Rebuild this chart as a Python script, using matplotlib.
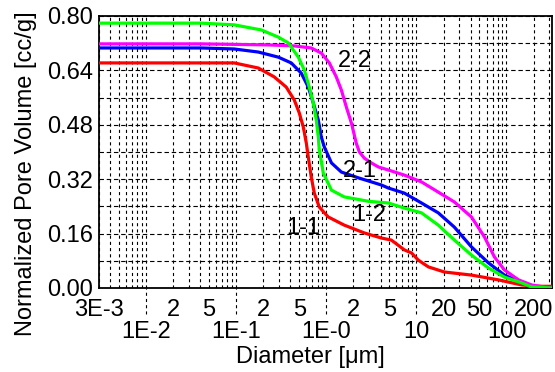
import numpy as np
import matplotlib
matplotlib.use('Agg')
import matplotlib.pyplot as plt
from matplotlib.ticker import FixedLocator

plt.rcParams['font.family'] = ['Liberation Sans', 'DejaVu Sans']

# Sample 1-1 (red)
d_11 = [3e-3, 0.041, 0.095, 0.176, 0.264, 0.359, 0.441, 0.501, 0.555, 0.6, 0.631, 0.681, 0.736,
        0.836, 1.05, 1.58, 2.64, 4.08, 5.27, 7.36, 8.83, 10.5, 13.6, 20.5, 40.8, 81, 147, 226, 320]
v_11 = [0.662, 0.662, 0.662, 0.647, 0.621, 0.591, 0.553, 0.515, 0.474, 0.426, 0.385, 0.326, 0.279,
        0.238, 0.209, 0.185, 0.162, 0.147, 0.141, 0.112, 0.103, 0.082, 0.062, 0.047, 0.038, 0.024, 0.009, 0.005, 0.005]
# Sample 1-2 (green)
d_12 = [3e-3, 0.041, 0.095, 0.19, 0.293, 0.378, 0.489, 0.57, 0.647, 0.717, 0.774, 0.815, 0.836, 0.926,
        1.14, 1.58, 2.93, 4.89, 7.36, 11.4, 17.5, 26.4, 40.8, 63, 95, 147, 190, 320]
v_12 = [0.779, 0.779, 0.774, 0.759, 0.738, 0.721, 0.679, 0.641, 0.591, 0.544, 0.494, 0.444, 0.406, 0.338,
        0.288, 0.268, 0.255, 0.250, 0.235, 0.221, 0.185, 0.141, 0.097, 0.059, 0.032, 0.015, 0.003, 0.0]
# Sample 2-1 (blue)
d_21 = [3e-3, 0.041, 0.095, 0.176, 0.293, 0.408, 0.527, 0.631, 0.717, 0.815, 0.88, 0.95, 1.14, 1.47,
        2.27, 4.08, 4.89, 7.36, 11.4, 17.5, 26.4, 40.8, 63, 95, 147, 204, 320]
v_21 = [0.706, 0.706, 0.703, 0.694, 0.679, 0.662, 0.632, 0.591, 0.544, 0.494, 0.444, 0.415, 0.368, 0.341,
        0.324, 0.303, 0.294, 0.279, 0.250, 0.221, 0.179, 0.121, 0.074, 0.038, 0.015, 0.003, 0.0]
# Sample 2-2 (magenta)
d_22 = [3e-3, 0.041, 0.227, 0.441, 0.681, 0.88, 1.08, 1.29, 1.47, 1.67, 1.9, 2.15, 2.33, 2.64, 3.16,
        3.78, 4.89, 7.36, 11.4, 17.5, 26.4, 40.8, 57, 73.6, 95, 136, 190, 264, 320]
v_22 = [0.718, 0.718, 0.715, 0.712, 0.706, 0.691, 0.662, 0.621, 0.582, 0.532, 0.485, 0.426, 0.400, 0.382, 0.368,
        0.356, 0.347, 0.332, 0.312, 0.282, 0.253, 0.209, 0.150, 0.091, 0.053, 0.024, 0.009, 0.003, 0.0]

# curve labels: text, diameter, volume
curve_labels = [('2-2', 2.1, 0.668), ('2-1', 2.33, 0.344), ('1-2', 3.0, 0.215), ('1-1', 0.555, 0.176)]

y_ticks = [0.00, 0.16, 0.32, 0.48, 0.64, 0.80]
major_x = [1e-2, 1e-1, 1e0, 1e1, 1e2]
major_labels = ['1E-2', '1E-1', '1E-0', '10', '100']
minor_labelled = {3e-3: '3E-3', 2e-2: '2', 5e-2: '5', 2e-1: '2', 5e-1: '5', 2: '2', 5: '5',
                  20: '20', 50: '50', 200: '200'}

fig = plt.figure(figsize=(5.55, 3.72), dpi=100)
ax = fig.add_axes([99/555, 84/372, 453/555, 272/372])

ax.plot(d_11, v_11, color='#ff0000', lw=2.3, zorder=3)
ax.plot(d_21, v_21, color='#0000ff', lw=2.3, zorder=3)
ax.plot(d_22, v_22, color='#ff00ff', lw=2.3, zorder=3)
ax.plot(d_12, v_12, color='#00ff00', lw=2.3, zorder=3)

for txt, xd, yv in curve_labels:
    ax.text(xd, yv, txt, fontsize=17, ha='center', va='center', color='black', zorder=4)

ax.set_xscale('log')
ax.set_xlim(3e-3, 320)
ax.set_ylim(0, 0.80)

# minor positions: 3..9 x 1e-3, then 2..9 per decade
minor_pos = []
for dec in [1e-3, 1e-2, 1e-1, 1e0, 1e1, 1e2]:
    for k in range(2, 10):
        p = k * dec
        if 3e-3 - 1e-9 <= p <= 320:
            minor_pos.append(p)
minor_lab = []
for p in minor_pos:
    lab = ''
    for key, val in minor_labelled.items():
        if abs(p - key) / key < 1e-6:
            lab = val
    minor_lab.append(lab)

ax.xaxis.set_major_locator(FixedLocator(major_x))
ax.set_xticklabels(major_labels)
ax.set_xticks(minor_pos, minor_lab, minor=True)

ax.set_yticks(y_ticks)
ax.set_yticklabels(['%.2f' % t for t in y_ticks])
ax.set_yticks([0.08, 0.24, 0.40, 0.56, 0.72], minor=True)

ax.tick_params(axis='x', which='major', length=0, pad=24, labelsize=17)
ax.tick_params(axis='x', which='minor', length=0, pad=8, labelsize=17)
ax.tick_params(axis='y', which='both', length=0, pad=4, labelsize=17)

ax.grid(True, axis='x', which='both', color='black', lw=0.8, ls=(0, (2.8, 2.8)))
ax.grid(True, axis='y', which='both', color='black', lw=0.8, ls=(0, (4, 2.5)))

# dashed major ticks hanging below the axis
ax.vlines(major_x, -0.095, 0, transform=ax.get_xaxis_transform(), colors='black',
          lw=0.8, linestyles=(0, (2.8, 2.8)), clip_on=False)

for s in ax.spines.values():
    s.set_linewidth(1.3)
    s.set_color('black')

ax.set_xlabel('Diameter [\u03bcm]', fontsize=17)
ax.xaxis.set_label_coords(0.466, -0.212)
ax.xaxis.label.set_va('top')
ax.set_ylabel('Normalized Pore Volume [cc/g]', fontsize=17)
ax.yaxis.set_label_coords(-0.137, 0.42)

fig.savefig('out.png', dpi=100)
